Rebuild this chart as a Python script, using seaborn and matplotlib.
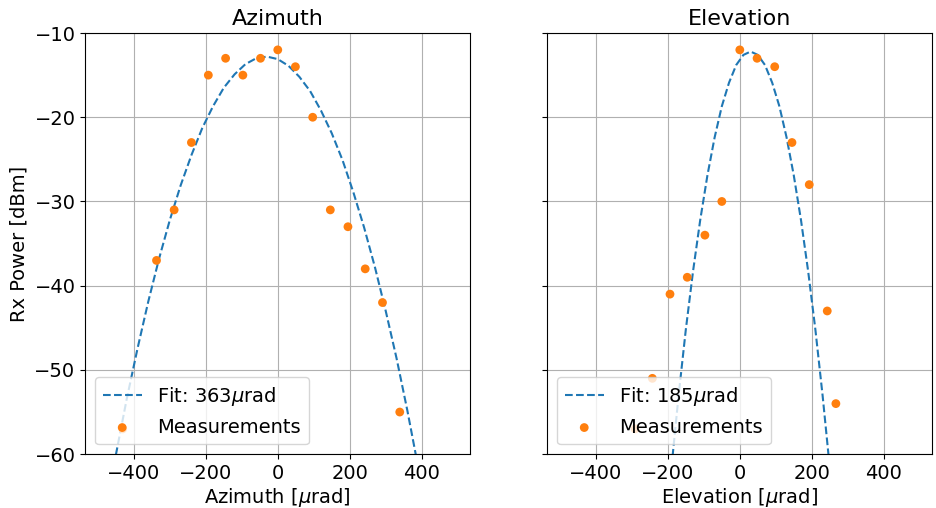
import matplotlib
matplotlib.use("Agg")
import matplotlib.pyplot as plt
import seaborn as sns

# measured points
az_x = [-431, -337, -288, -240, -193, -145, -97, -48, 0, 49, 97, 146, 195, 243, 291, 339]
az_y = [-57, -37, -31, -23, -15, -13, -15, -13, -12, -14, -20, -31, -33, -38, -42, -55]
el_x = [-291, -243, -194, -146, -97, -50, 0, 48, 97, 145, 193, 243, 267]
el_y = [-57, -51, -41, -39, -34, -30, -12, -13, -14, -23, -28, -43, -54]

# fitted curves
az_fit_x = [-450, -420, -390, -360, -330, -300, -270, -240, -210, -180, -150, -120, -90, -60, -30,
            0, 30, 60, 90, 120, 150, 180, 210, 240, 270, 300, 330, 360, 390]
az_fit_y = [-60.1, -53.5, -47.5, -41.9, -36.8, -32.2, -28.1, -24.5, -21.3, -18.7, -16.5, -14.9, -13.7,
            -13.0, -12.8, -13.1, -13.9, -15.2, -16.9, -19.2, -21.9, -25.1, -28.9, -33.1, -37.8, -43.0,
            -48.6, -54.8, -61.5]
el_fit_x = [-190, -170, -150, -130, -110, -90, -70, -50, -30, -10, 10, 30, 50, 70, 90, 110, 130,
            150, 170, 190, 210, 230, 250]
el_fit_y = [-61.6, -53.0, -45.2, -38.3, -32.2, -26.9, -22.4, -18.7, -15.9, -13.8, -12.6, -12.2, -12.6,
            -13.8, -15.9, -18.7, -22.4, -26.9, -32.2, -38.3, -45.2, -53.0, -61.6]

panels = [
    ("Azimuth", az_x, az_y, az_fit_x, az_fit_y, "Fit: 363$\\mu$rad"),
    ("Elevation", el_x, el_y, el_fit_x, el_fit_y, "Fit: 185$\\mu$rad"),
]

plt.rcParams["font.family"] = ["DejaVu Sans"]
plt.rcParams["font.size"] = 14

fig, axes = plt.subplots(1, 2, figsize=(9.37, 5.08), dpi=100, sharey=True)
fig.subplots_adjust(left=0.091, right=0.995, top=0.935, bottom=0.106, wspace=0.2)

for ax, (name, x, y, fx, fy, fit_label) in zip(axes, panels):
    sns.lineplot(x=fx, y=fy, ax=ax, color="C0", linestyle="--", linewidth=1.5,
                 sort=False, label=fit_label)
    sns.scatterplot(x=x, y=y, ax=ax, color="C1", s=40, edgecolor="none",
                    label="Measurements", zorder=3)
    ax.set_title(name, fontsize=16)
    ax.set_xlabel(name + " [$\\mu$rad]", fontsize=14, labelpad=2)
    ax.set_xlim(-535, 535)
    ax.set_ylim(-60, -10)
    ax.set_xticks([-400, -200, 0, 200, 400])
    ax.set_yticks([-60, -50, -40, -30, -20, -10])
    ax.tick_params(labelsize=14)
    ax.grid(True, color="#b0b0b0", linewidth=0.8)
    ax.set_axisbelow(True)
    ax.legend(loc="lower left", fontsize=14)

axes[0].set_ylabel("Rx Power [dBm]", fontsize=14)

plt.savefig("out.png", dpi=100)
